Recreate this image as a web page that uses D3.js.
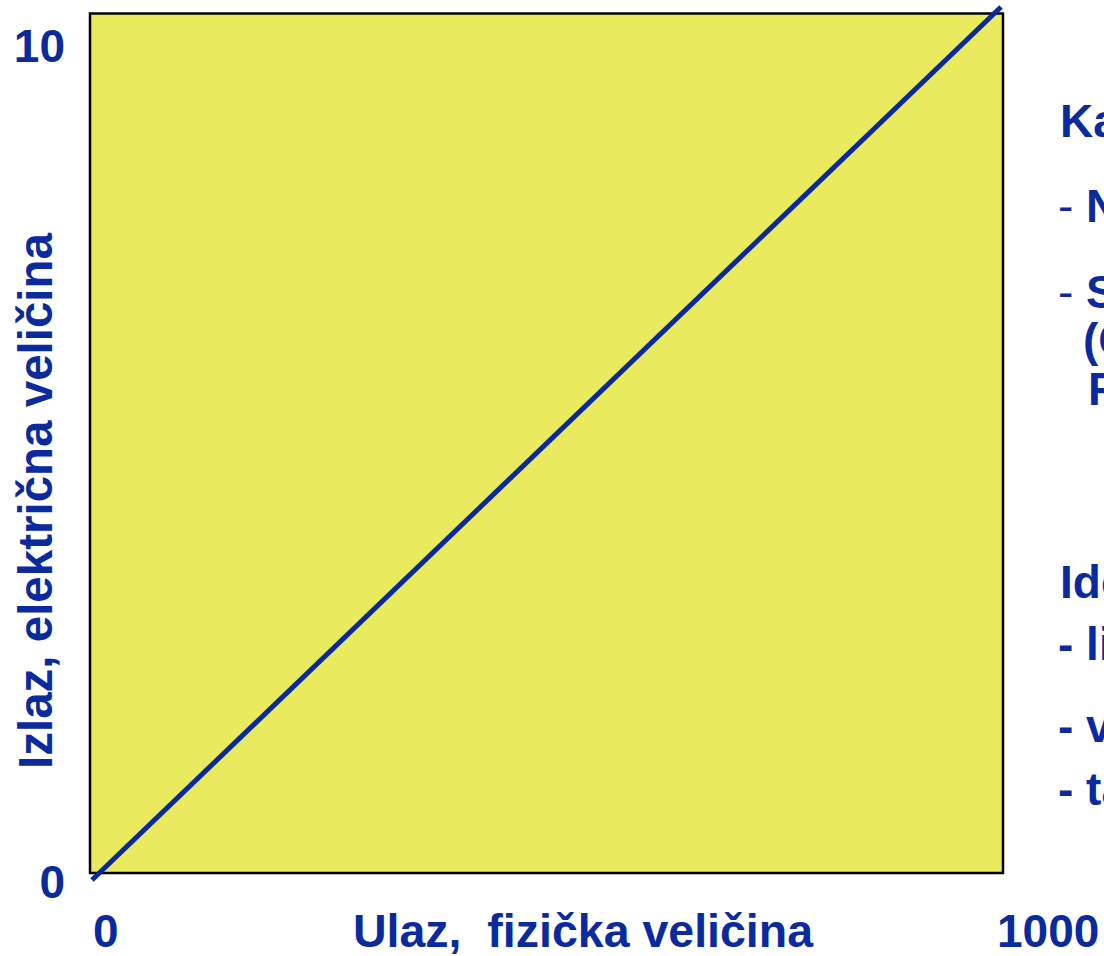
<!DOCTYPE html>
<html>
<head>
<meta charset="utf-8">
<script src="https://cdn.jsdelivr.net/npm/d3@7"></script>
<style>
  html, body { margin: 0; padding: 0; background: #ffffff; overflow: hidden; }
  svg { display: block; }
  text { font-family: "Liberation Sans", Arial, sans-serif; font-weight: bold; fill: #0A2A9E; }
</style>
</head>
<body>
<svg id="chart" width="1104" height="956"></svg>
<script>
// ---- data ----
const inputDomain = [0, 1000];           // Ulaz, fizička veličina
const outputDomain = [0, 10];            // Izlaz, električna veličina
const lineInput = [0, 1000];
const lineOutput = [0, 10];
const xTickValues = [0, 1000];
const xTickLabels = ["0", "1000"];
const yTickValues = [0, 10];
const yTickLabels = ["0", "10"];
const xTitle = "Ulaz,  fizička veličina";
const yTitle = "Izlaz, električna veličina";
const sideLines = [
  "Karakteristika senzora:",
  "- Nominalni opseg ulaza",
  "- Statička karakteristika",
  "(Conversion)",
  "Funkcija prenosa",
  "Idealni senzor:",
  "- linearan",
  "- vremenski stabilan",
  "- tačan"
];

// ---- layout ----
const W = 1104, H = 956;
const frame = { left: 90, top: 13.5, right: 1003, bottom: 873 };
const svg = d3.select("#chart");

const x = d3.scaleLinear().domain(inputDomain).range([92, 1001]);
const y = d3.scaleLinear().domain(outputDomain).range([880, 7]);
// label placement scales
const xLab = d3.scaleLinear().domain(inputDomain).range([93, 997]);
const yLab = d3.scaleLinear().domain(outputDomain).range([898, 62]);

// plot area
svg.append("rect")
  .attr("x", frame.left).attr("y", frame.top)
  .attr("width", frame.right - frame.left)
  .attr("height", frame.bottom - frame.top)
  .attr("fill", "#EAEA5E")
  .attr("stroke", "#000000")
  .attr("stroke-width", 2.5);

// characteristic line
const pts = lineInput.map((v, i) => [v, lineOutput[i]]);
svg.append("path")
  .datum(pts)
  .attr("d", d3.line().x(d => x(d[0])).y(d => y(d[1])))
  .attr("fill", "none")
  .attr("stroke", "#0A2A9A")
  .attr("stroke-width", 5);

// tick labels
svg.selectAll("text.xt").data(xTickValues).enter().append("text")
  .attr("class", "xt")
  .attr("x", d => xLab(d)).attr("y", 947)
  .attr("font-size", 46)
  .attr("text-anchor", "start")
  .text((d, i) => xTickLabels[i]);

svg.selectAll("text.yt").data(yTickValues).enter().append("text")
  .attr("class", "yt")
  .attr("x", 65).attr("y", d => yLab(d))
  .attr("font-size", 46)
  .attr("text-anchor", "end")
  .text((d, i) => yTickLabels[i]);

// axis titles
svg.append("text")
  .attr("x", 353).attr("y", 947)
  .attr("font-size", 46.5)
  .style("white-space", "pre")
  .text(xTitle);

svg.append("text")
  .attr("transform", "translate(52,501) rotate(-90)")
  .attr("text-anchor", "middle")
  .attr("font-size", 47.5)
  .text(yTitle);

// side text (cut off by the page edge, as in the original slide)
const sidePos = [
  { x: 1060, y: 137, dash: false },
  { x: 1058, y: 222, dash: "thin" },
  { x: 1058, y: 308, dash: "thin" },
  { x: 1083, y: 356, dash: false },
  { x: 1088, y: 405, dash: false },
  { x: 1060, y: 598, dash: false },
  { x: 1058, y: 660, dash: false },
  { x: 1058, y: 742, dash: false },
  { x: 1058, y: 805, dash: false }
];
sideLines.forEach((t, i) => {
  const p = sidePos[i];
  const el = svg.append("text")
    .attr("x", p.x).attr("y", p.y)
    .attr("font-size", 46)
    .style("white-space", "pre");
  if (p.dash === "thin") {
    el.append("tspan").attr("font-weight", "normal").text("-");
    el.append("tspan").text(" " + t.slice(2));
  } else {
    el.text(t);
  }
});
</script>
</body>
</html>
